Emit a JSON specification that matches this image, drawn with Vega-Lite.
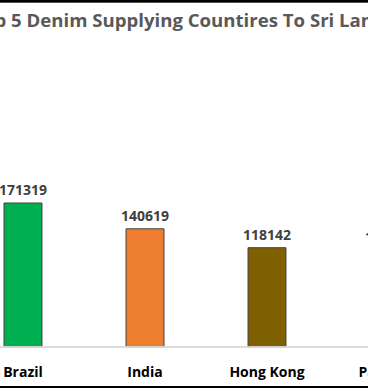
{
  "$schema": "https://vega.github.io/schema/vega-lite/v6.json",
  "width": 488,
  "height": 388,
  "autosize": {"type": "none"},
  "padding": {"left": -38, "right": -82, "top": 0, "bottom": 0},
  "background": "white",
  "title": {
    "text": "Top 5 Denim Supplying Countires To Sri Lanka",
    "font": "Open Sans",
    "fontSize": 18.6,
    "fontWeight": "bold",
    "color": "#595959",
    "anchor": "middle",
    "dx": -22,
    "offset": -31
  },
  "config": {"view": {"stroke": null}},
  "data": {
    "values": [
      {"Country": "Brazil", "Value": 171319},
      {"Country": "India", "Value": 140619},
      {"Country": "Hong Kong", "Value": 118142},
      {"Country": "Pakistan", "Value": 115000}
    ]
  },
  "layer": [
    {
      "mark": {"type": "bar", "stroke": "#404040", "strokeWidth": 1},
      "encoding": {
        "x": {
          "field": "Country",
          "type": "nominal",
          "sort": ["Brazil", "India", "Hong Kong", "Pakistan"],
          "scale": {"paddingInner": 0.689, "paddingOuter": 0.3445},
          "axis": {
            "title": null,
            "orient": "bottom",
            "ticks": false,
            "domain": false,
            "labelAngle": 0,
            "labelFont": "Open Sans",
            "labelFontSize": 14,
            "labelFontWeight": "bold",
            "labelColor": "#000000",
            "labelBaseline": "middle",
            "labelPadding": -16
          }
        },
        "y": {
          "field": "Value",
          "type": "quantitative",
          "scale": {"domain": [0, 412832], "range": [347, 0], "nice": false, "zero": true},
          "axis": null
        },
        "color": {
          "field": "Country",
          "type": "nominal",
          "scale": {
            "domain": ["Brazil", "India", "Hong Kong", "Pakistan"],
            "range": ["#00B050", "#ED7D31", "#7F6000", "#4472C4"]
          },
          "legend": null
        }
      }
    },
    {
      "mark": {
        "type": "text",
        "dy": -12,
        "font": "Open Sans",
        "fontSize": 14,
        "fontWeight": "bold",
        "color": "#404040"
      },
      "encoding": {
        "x": {"field": "Country", "type": "nominal", "sort": ["Brazil", "India", "Hong Kong", "Pakistan"]},
        "y": {"field": "Value", "type": "quantitative"},
        "text": {"field": "Value", "type": "quantitative", "format": "d"}
      }
    },
    {
      "mark": {"type": "rule", "color": "#d9d9d9", "strokeWidth": 1},
      "encoding": {"y": {"datum": 0}}
    },
    {
      "mark": {"type": "rule", "color": "#000000", "strokeWidth": 2},
      "encoding": {"y": {"datum": 411200}}
    },
    {
      "mark": {"type": "rule", "color": "#000000", "strokeWidth": 2},
      "encoding": {"y": {"datum": -47800}}
    }
  ]
}
